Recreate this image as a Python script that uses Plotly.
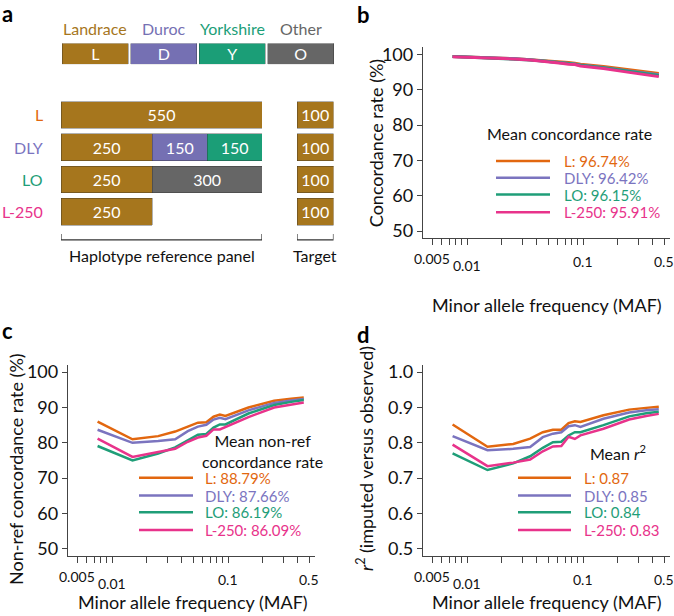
import math
import plotly.graph_objects as go

W, H = 674, 616
FONT = "Lato"

# ---------------- data ----------------
panels = ["L", "DLY", "LO", "L-250"]
breeds = ["Landrace", "Duroc", "Yorkshire", "Other"]
breed_codes = ["L", "D", "Y", "O"]
breed_colors = ["#a6761d", "#7570b3", "#1b9e77", "#666666"]

# reference panel composition (number of haplotypes by breed, per panel)
comp_landrace = [550, 250, 250, 250]
comp_duroc = [None, 150, None, None]
comp_yorkshire = [None, 150, None, None]
comp_other = [None, None, 300, None]
target_sizes = [100, 100, 100, 100]

series_colors = ["#e2670f", "#7b74bf", "#1f9e78", "#e8338b"]

maf = [0.0075, 0.015, 0.025, 0.035, 0.045, 0.055, 0.065, 0.075, 0.085, 0.095,
       0.15, 0.25, 0.35, 0.45]

conc_L = [99.4, 99.1, 98.8, 98.5, 98.3, 98.1, 97.9, 97.7, 97.5, 97.2, 96.6, 95.6, 95.0, 94.6]
conc_DLY = [99.4, 99.1, 98.8, 98.5, 98.2, 98.0, 97.8, 97.5, 97.3, 97.0, 96.3, 95.3, 94.6, 94.2]
conc_LO = [99.4, 99.0, 98.7, 98.4, 98.1, 97.9, 97.7, 97.4, 97.2, 96.9, 96.2, 95.1, 94.4, 94.0]
conc_L250 = [99.3, 99.0, 98.7, 98.4, 98.1, 97.8, 97.5, 97.2, 97.1, 96.7, 96.0, 94.9, 94.2, 93.7]

nonref_L = [86.0, 81.0, 81.9, 83.2, 84.6, 85.7, 85.8, 87.4, 88.0, 87.6, 90.0, 91.9, 92.5, 92.8]
nonref_DLY = [83.7, 80.0, 80.5, 81.0, 83.3, 84.6, 85.1, 86.6, 87.1, 86.7, 89.2, 91.3, 92.0, 92.4]
nonref_LO = [79.1, 75.0, 77.0, 78.7, 80.7, 82.3, 82.5, 84.3, 85.2, 85.2, 88.3, 90.7, 91.6, 92.1]
nonref_L250 = [81.2, 76.0, 77.4, 78.3, 80.3, 81.5, 82.0, 83.8, 83.8, 84.5, 87.3, 90.0, 90.9, 91.4]

r2_L = [0.852, 0.789, 0.797, 0.812, 0.830, 0.837, 0.837, 0.856, 0.861, 0.859, 0.878, 0.894, 0.899, 0.902]
r2_DLY = [0.819, 0.779, 0.783, 0.788, 0.816, 0.826, 0.830, 0.847, 0.850, 0.845, 0.868, 0.886, 0.892, 0.895]
r2_LO = [0.770, 0.723, 0.742, 0.762, 0.786, 0.802, 0.803, 0.821, 0.830, 0.830, 0.850, 0.875, 0.884, 0.888]
r2_L250 = [0.795, 0.734, 0.744, 0.753, 0.776, 0.790, 0.791, 0.817, 0.811, 0.821, 0.840, 0.866, 0.876, 0.882]

mean_conc = ["96.74%", "96.42%", "96.15%", "95.91%"]
mean_nonref = ["88.79%", "87.66%", "86.19%", "86.09%"]
mean_r2 = ["0.87", "0.85", "0.84", "0.83"]

maf_ticks = [0.005, 0.006, 0.007, 0.008, 0.009, 0.01, 0.02, 0.03, 0.04, 0.05,
             0.06, 0.07, 0.08, 0.09, 0.1, 0.2, 0.3, 0.4, 0.5]
maf_label_vals = [0.005, 0.01, 0.1, 0.5]
maf_label_text = ["0.005", "0.01", "0.1", "0.5"]
maf_label_drop = [21, 28, 24, 24]   # staggered label offsets below the axis (px)


def px(x):
    return x / W


def py(y):
    return 1 - y / H


fig = go.Figure()
EDGE = dict(color="rgba(40,40,40,0.45)", width=0.8)

# ---------------- panel a ----------------
fig.add_trace(go.Bar(
    x=breed_codes, y=[1, 1, 1, 1], width=0.97,
    marker=dict(color=breed_colors, line=EDGE),
    text=breed_codes, textposition="inside", insidetextanchor="middle",
    textangle=0, constraintext="none",
    textfont=dict(color="white", size=16, family=FONT),
    xaxis="x", yaxis="y", showlegend=False, hoverinfo="skip"))

comp = [comp_landrace, comp_duroc, comp_yorkshire, comp_other]
for b, vals, col in zip(breeds, comp, breed_colors):
    fig.add_trace(go.Bar(
        y=panels, x=vals, orientation="h", width=0.83,
        marker=dict(color=col, line=EDGE),
        text=vals, textposition="inside", insidetextanchor="middle",
        textangle=0, constraintext="none",
        textfont=dict(color="white", size=16, family=FONT),
        xaxis="x2", yaxis="y2", showlegend=False, name=b, hoverinfo="skip"))

fig.add_trace(go.Bar(
    y=panels, x=target_sizes, orientation="h", width=0.83,
    marker=dict(color=breed_colors[0], line=EDGE),
    text=target_sizes, textposition="inside", insidetextanchor="middle",
    textangle=0, constraintext="none",
    textfont=dict(color="white", size=16, family=FONT),
    xaxis="x3", yaxis="y3", showlegend=False, hoverinfo="skip"))

# ---------------- panels b, c, d ----------------
curve_sets = [
    ("4", [conc_L, conc_DLY, conc_LO, conc_L250], 3.0),
    ("5", [nonref_L, nonref_DLY, nonref_LO, nonref_L250], 2.5),
    ("6", [r2_L, r2_DLY, r2_LO, r2_L250], 2.5),
]
for ax, ys, lw in curve_sets:
    for name, y, col in zip(panels, ys, series_colors):
        fig.add_trace(go.Scatter(
            x=maf, y=y, mode="lines", line=dict(color=col, width=lw),
            xaxis="x" + ax, yaxis="y" + ax, showlegend=False, name=name,
            hoverinfo="skip"))

hidden = dict(visible=False, showgrid=False, zeroline=False, fixedrange=True)

xlog_common = dict(
    type="log", range=[-2.38, -0.25], showline=True, ticks="outside", ticklen=6,
    tickwidth=1.2, tickcolor="#444", linecolor="#444", linewidth=1.3,
    tickvals=maf_ticks, showticklabels=False, showgrid=False, zeroline=False)

ycommon = dict(showline=True, ticks="outside", ticklen=5, tickwidth=1.2,
               tickcolor="#444", linecolor="#444", linewidth=1.3, showgrid=False,
               zeroline=False, tickfont=dict(size=18, family=FONT, color="#111"))

fig.update_layout(
    width=W, height=H, margin=dict(l=0, r=0, t=0, b=0),
    plot_bgcolor="white", paper_bgcolor="white",
    font=dict(family=FONT, color="#111"),
    barmode="stack",
    xaxis=dict(domain=[px(61), px(335)], range=[-0.5, 3.5], anchor="y", **hidden),
    yaxis=dict(domain=[py(60), py(39)], range=[0, 1], anchor="x", **hidden),
    xaxis2=dict(domain=[px(61), px(262)], range=[0, 550], anchor="y2", **hidden),
    yaxis2=dict(domain=[py(226), py(95)], range=[3.5, -0.5], type="category",
                anchor="x2", **hidden),
    xaxis3=dict(domain=[px(297), px(333.5)], range=[0, 100], anchor="y3", **hidden),
    yaxis3=dict(domain=[py(226), py(95)], range=[3.5, -0.5], type="category",
                anchor="x3", **hidden),
    xaxis4=dict(domain=[px(423), px(670)], anchor="y4", **xlog_common),
    yaxis4=dict(domain=[py(236), py(43)], range=[48.04, 101.96], anchor="x4",
                tickvals=[50, 60, 70, 80, 90, 100], **ycommon),
    xaxis5=dict(domain=[px(68), px(315)], anchor="y5", **xlog_common),
    yaxis5=dict(domain=[py(558), py(365)], range=[48.04, 101.96], anchor="x5",
                tickvals=[50, 60, 70, 80, 90, 100], **ycommon),
    xaxis6=dict(domain=[px(423), px(670)], anchor="y6", **xlog_common),
    yaxis6=dict(domain=[py(558), py(365)], range=[0.4804, 1.0196], anchor="x6",
                tickvals=[0.5, 0.6, 0.7, 0.8, 0.9, 1.0],
                ticktext=["0.5", "0.6", "0.7", "0.8", "0.9", "1.0"], **ycommon),
)

ann = []
shapes = []


def text(x, y, s, size=16, color="#111", xanchor="center", yanchor="middle",
         angle=0, bold=False):
    ann.append(dict(x=px(x), y=py(y), xref="paper", yref="paper",
                    text=(f"<b>{s}</b>" if bold else s),
                    showarrow=False, xanchor=xanchor, yanchor=yanchor, textangle=angle,
                    font=dict(size=size, color=color, family=FONT)))


# panel letters
text(7, 9, "a", size=22, bold=True, color="#000")
text(363, 10, "b", size=22, bold=True, color="#000")
text(7, 330, "c", size=22, bold=True, color="#000")
text(363, 334, "d", size=22, bold=True, color="#000")

# breed names over key
for b, code, col in zip(breeds, breed_codes, breed_colors):
    ann.append(dict(x=code, y=py(24), xref="x", yref="paper", text=b, showarrow=False,
                    xanchor="center", yanchor="middle",
                    font=dict(size=16, color=col, family=FONT)))

# row labels
for p, col in zip(panels, series_colors):
    ann.append(dict(x=px(45), y=p, xref="paper", yref="y2", text=p, showarrow=False,
                    xanchor="right", yanchor="middle",
                    font=dict(size=16, color=col, family=FONT)))

# brackets
for xr, x1 in (("x2", 550), ("x3", 100)):
    shapes.append(dict(type="path", xref=xr, yref="paper",
                       path=f"M 0,{py(232)} L 0,{py(238)} L {x1},{py(238)} L {x1},{py(232)}",
                       line=dict(color="#333", width=1.2)))
ann.append(dict(x=275, y=py(254), xref="x2", yref="paper", text="Haplotype reference panel",
                showarrow=False, xanchor="center", yanchor="middle",
                font=dict(size=16, color="#111", family=FONT)))
ann.append(dict(x=50, y=py(254), xref="x3", yref="paper", text="Target",
                showarrow=False, xanchor="center", yanchor="middle",
                font=dict(size=16, color="#111", family=FONT)))

# staggered MAF tick labels
for xr, ybase in (("x4", 236), ("x5", 558), ("x6", 558)):
    for v, t, d in zip(maf_label_vals, maf_label_text, maf_label_drop):
        ann.append(dict(x=math.log10(v), y=py(ybase + d), xref=xr, yref="paper", text=t,
                        showarrow=False, xanchor="center", yanchor="middle",
                        font=dict(size=14, color="#111", family=FONT)))

# axis titles
text(547, 304, "Minor allele frequency (MAF)", size=18)
text(193, 605, "Minor allele frequency (MAF)", size=18)
text(547, 605, "Minor allele frequency (MAF)", size=18)
text(376, 140, "Concordance rate (%)", size=18, angle=-90)
text(16, 470, "Non-ref concordance rate (%)", size=18, angle=-90)
text(365, 460, "<i>r</i><sup>2</sup> (imputed versus observed)", size=18, angle=-90)

# in-plot legends
legends = [
    ("Mean concordance rate", (569, 130), 496, 550, 562, [158, 175, 192, 210], mean_conc),
    ("Mean non-ref<br>concordance rate", (262, 452), 139, 193, 203, [479, 497, 514, 532], mean_nonref),
    ("Mean <i>r</i><sup>2</sup>", (618, 453), 518, 571, 582, [479, 497, 514, 532], mean_r2),
]
for title, (tx, ty), lx0, lx1, tx0, ys, means in legends:
    text(tx, ty, title, size=16)
    for p, col, yy, m in zip(panels, series_colors, ys, means):
        shapes.append(dict(type="line", xref="paper", yref="paper",
                           x0=px(lx0), x1=px(lx1), y0=py(yy), y1=py(yy),
                           line=dict(color=col, width=2.5)))
        text(tx0, yy, f"{p}: {m}", size=15, color=col, xanchor="left")

fig.update_layout(annotations=ann, shapes=shapes)
fig.write_html("out.html", config={"displayModeBar": False},
               post_script="document.body.style.margin='0';document.body.style.overflow='hidden';")
